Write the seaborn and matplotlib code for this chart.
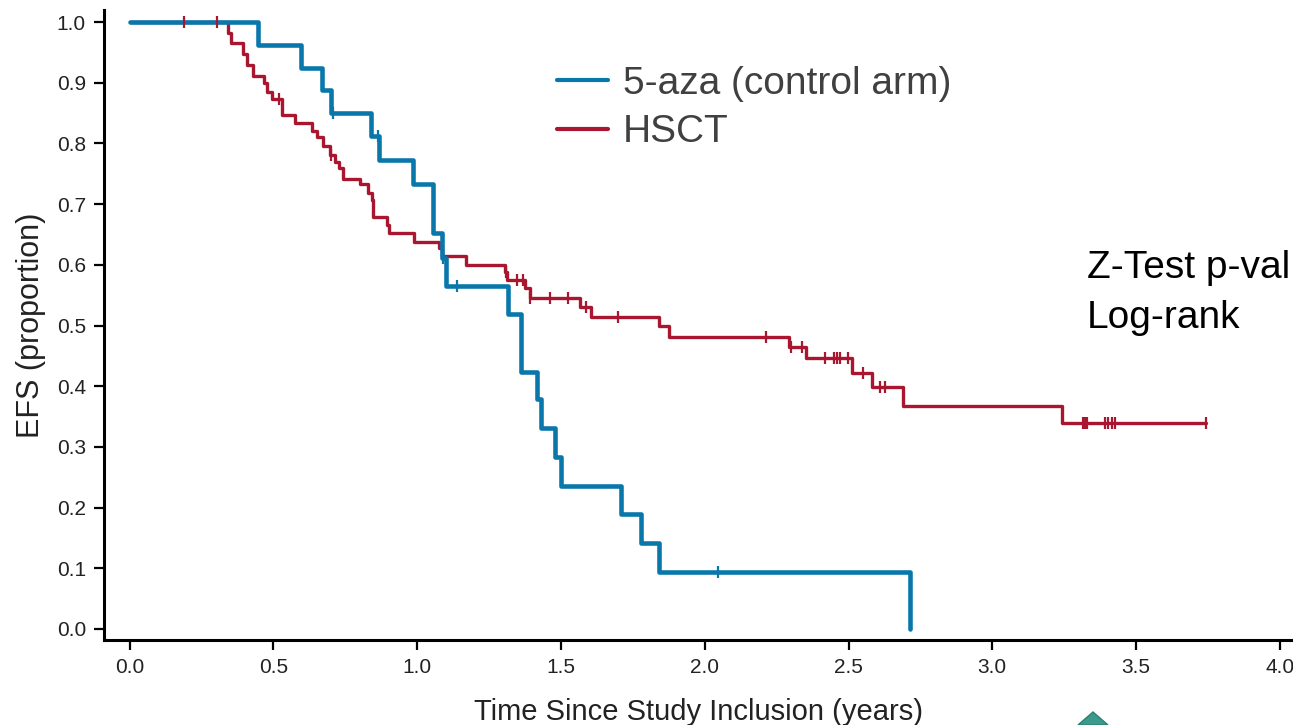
import numpy as np
import pandas as pd
import matplotlib
matplotlib.use("Agg")
import matplotlib.pyplot as plt
from matplotlib.patches import Polygon
import seaborn as sns

# ---------------- data ----------------
arms = ["5-aza (control arm)", "HSCT"]

aza_times = [0.0, 0.448, 0.598, 0.671, 0.702, 0.838, 0.868, 0.986, 1.055, 1.085,
             1.100, 1.317, 1.362, 1.418, 1.432, 1.480, 1.500, 1.710, 1.780, 1.840, 2.714]
aza_surv = [1.0, 0.962, 0.924, 0.888, 0.850, 0.812, 0.773, 0.733, 0.652, 0.611,
            0.565, 0.519, 0.423, 0.379, 0.331, 0.283, 0.236, 0.189, 0.142, 0.094, 0.0]
aza_censor = [0.708, 0.865, 1.090, 1.140, 2.045]

hsct_times = [0.0, 0.344, 0.352, 0.396, 0.407, 0.428, 0.469, 0.477, 0.494, 0.529,
              0.575, 0.633, 0.651, 0.672, 0.697, 0.715, 0.729, 0.741, 0.801, 0.830,
              0.842, 0.848, 0.896, 0.903, 0.989, 1.077, 1.086, 1.170, 1.306, 1.312,
              1.375, 1.393, 1.566, 1.604, 1.842, 1.877, 2.294, 2.352, 2.511, 2.581,
              2.688, 3.243, 3.742]
hsct_surv = [1.0, 0.982, 0.965, 0.948, 0.929, 0.911, 0.899, 0.885, 0.873, 0.847,
             0.833, 0.821, 0.810, 0.796, 0.781, 0.770, 0.759, 0.742, 0.733, 0.719,
             0.707, 0.679, 0.666, 0.652, 0.638, 0.627, 0.615, 0.600, 0.588, 0.575,
             0.561, 0.545, 0.531, 0.514, 0.499, 0.481, 0.465, 0.446, 0.422, 0.399,
             0.368, 0.340, 0.340]
hsct_censor = [0.190, 0.304, 0.520, 0.700, 1.310, 1.348, 1.367, 1.393, 1.462, 1.526,
               1.586, 1.700, 2.213, 2.300, 2.337, 2.418, 2.451, 2.461, 2.470, 2.497,
               2.551, 2.610, 2.627, 3.314, 3.321, 3.328, 3.392, 3.404, 3.415, 3.427, 3.742]

x_ticks = [0.0, 0.5, 1.0, 1.5, 2.0, 2.5, 3.0, 3.5, 4.0]
y_ticks = [0.0, 0.1, 0.2, 0.3, 0.4, 0.5, 0.6, 0.7, 0.8, 0.9, 1.0]

x_label = "Time Since Study Inclusion (years)"
y_label = "EFS (proportion)"
stat_lines = ["Z-Test p-val", "Log-rank"]

colors = {"5-aza (control arm)": "#0A77AB", "HSCT": "#A8172F"}
widths = {"5-aza (control arm)": 3.3, "HSCT": 2.4}

# ---------------- figure ----------------
sns.set_theme(style="ticks")
sans = ["Liberation Sans", "DejaVu Sans"]
plt.rcParams["font.family"] = sans

W, H = 1293, 725
fig = plt.figure(figsize=(W / 100, H / 100), dpi=100)
ax = fig.add_axes([104 / W, (H - 640) / H, (W - 104) / W, 630 / H])

curves = {
    arms[0]: (aza_times, aza_surv, aza_censor),
    arms[1]: (hsct_times, hsct_surv, hsct_censor),
}

for arm in [arms[1], arms[0]]:
    t, s, c = curves[arm]
    df = pd.DataFrame({"t": t, "s": s})
    sns.lineplot(data=df, x="t", y="s", ax=ax, color=colors[arm],
                 linewidth=widths[arm], drawstyle="steps-post",
                 estimator=None, sort=False, zorder=3 if arm == arms[0] else 2)
    idx = np.searchsorted(np.array(t), np.array(c), side="right") - 1
    cy = np.array(s)[idx]
    sns.scatterplot(x=c, y=cy, ax=ax, marker="|", s=70, color=colors[arm],
                    linewidth=1.6, zorder=4)

leg_handles = [plt.Line2D([], [], color=colors[a], linewidth=3.0) for a in arms]
leg = ax.legend(leg_handles, arms, loc="upper left",
                bbox_to_anchor=(557 / W, 1 - 66 / H), bbox_transform=fig.transFigure,
                frameon=False, prop={"family": sans, "size": 28},
                labelcolor="#404040", handlelength=1.3, handletextpad=0.4,
                labelspacing=0.32, borderaxespad=0, borderpad=0)

for i, line in enumerate(stat_lines):
    fig.text(1087 / W, 1 - (268 + 50 * i) / H, line, ha="left", va="center",
             fontsize=28, color="black", family=sans)

x0_px, xscale = 129.5, 287.6
ax.set_xlim((104 - x0_px) / xscale, (W - x0_px) / xscale)
ax.set_ylim(-(640 - 629) / 607, 1 + (22 - 10) / 607)
ax.set_xticks(x_ticks)
ax.set_xticklabels([f"{v:.1f}" for v in x_ticks])
ax.set_yticks(y_ticks)
ax.set_yticklabels([f"{v:.1f}" for v in y_ticks])
ax.tick_params(axis="both", labelsize=15, length=7, width=1.6, color="black",
               labelcolor="#222222")
ax.tick_params(axis="x", pad=6)
ax.tick_params(axis="y", pad=6)
ax.set_xlabel(x_label, fontsize=21, color="#222222", labelpad=15)
ax.set_ylabel(y_label, fontsize=22, color="#222222", labelpad=8)
for side in ["top", "right"]:
    ax.spines[side].set_visible(False)
for side in ["left", "bottom"]:
    ax.spines[side].set_linewidth(2.2)
    ax.spines[side].set_color("black")

# decorative teal marker at bottom edge
tri = Polygon([[1078 / W, 0.0], [1093 / W, 13 / H], [1108 / W, 0.0]],
              closed=True, transform=fig.transFigure, facecolor="#3A9A8C",
              edgecolor="#2E7F74", linewidth=1)
fig.patches.append(tri)

fig.savefig("out.png", dpi=100)
